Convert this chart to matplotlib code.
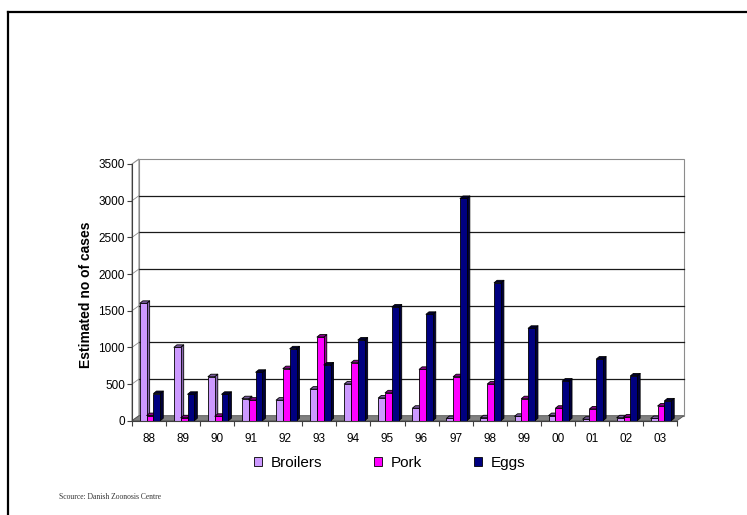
import matplotlib
matplotlib.use('Agg')
import matplotlib.pyplot as plt
from matplotlib.patches import Polygon, Patch
from matplotlib.collections import PolyCollection
from matplotlib.lines import Line2D
import numpy as np

plt.rcParams['font.family'] = ['Liberation Sans', 'DejaVu Sans']

# Salmonella cases per source, 1988-2003
years = ['88', '89', '90', '91', '92', '93', '94', '95',
         '96', '97', '98', '99', '00', '01', '02', '03']
broilers = [1600, 1000, 600, 300, 280, 430, 500, 310, 170, 30, 40, 60, 70, 20, 40, 30]
pork = [70, 40, 60, 280, 710, 1140, 790, 380, 700, 600, 500, 300, 170, 160, 50, 200]
eggs = [370, 360, 360, 660, 980, 760, 1100, 1550, 1450, 3030, 1880, 1260, 540, 840, 610, 270]

series_names = ['Broilers', 'Pork', 'Eggs']
series_vals = [broilers, pork, eggs]
front_cols = ['#cc99ff', '#ff00ff', '#000080']
side_cols = ['#8a68b0', '#9c009c', '#00003a']
top_cols = ['#7a5a9e', '#8a008a', '#000030']

W, H = 747, 515
fig = plt.figure(figsize=(W / 100, H / 100), dpi=100)
ax_l, ax_r, ax_b, ax_t = 132, 677, 420.7, 164.0
ax = fig.add_axes([ax_l / W, 1 - ax_b / H, (ax_r - ax_l) / W, (ax_b - ax_t) / H])

n = len(years)
ymax = 3500
ax.set_xlim(-0.5, n - 0.5)
ax.set_ylim(0, ymax)
ax.patch.set_visible(False)

# pixel -> data conversions for the pseudo-3D depth
px_x = (ax_r - ax_l) / n
px_y = (ax_b - ax_t) / ymax
wx, wy = 7 / px_x, 5 / px_y      # back wall offset
bx, by = 3 / px_x, 2.5 / px_y    # bar depth

x0, x1 = -0.5, n - 0.5
# left wall, back wall and floor
ax.add_patch(Polygon([(x0, 0), (x0 + wx, wy), (x0 + wx, ymax + wy), (x0, ymax)],
                     closed=True, facecolor='white', edgecolor='#8c8c8c', lw=0.8,
                     clip_on=False, zorder=0.5))
ax.add_patch(Polygon([(x0 + wx, wy), (x1 + wx, wy), (x1 + wx, ymax + wy), (x0 + wx, ymax + wy)],
                     closed=True, facecolor='white', edgecolor='#8c8c8c', lw=0.8,
                     clip_on=False, zorder=0.5))
for v in range(500, ymax, 500):
    ax.plot([x0 + wx, x1 + wx], [v + wy, v + wy], color='#1a1a1a', lw=0.9,
            clip_on=False, zorder=0.8)
    ax.plot([x0, x0 + wx], [v, v + wy], color='#8c8c8c', lw=0.6,
            clip_on=False, zorder=0.8)
ax.add_patch(Polygon([(x0, 0), (x1, 0), (x1 + wx, wy), (x0 + wx, wy)],
                     closed=True, facecolor='#808080', edgecolor='#505050', lw=0.6,
                     clip_on=False, zorder=1))

# bars: side and top faces first, then the front face
w = 0.2
shift = 0.03
idx = np.arange(n)
for s, (vals, fc, sc, tc) in enumerate(zip(series_vals, front_cols, side_cols, top_cols)):
    centers = idx + shift + (s - 1) * w
    sides, tops = [], []
    for c, v in zip(centers, vals):
        l, r = c - w / 2, c + w / 2
        sides.append([(r, 0), (r + bx, by), (r + bx, v + by), (r, v)])
        tops.append([(l, v), (l + bx, v + by), (r + bx, v + by), (r, v)])
    ax.add_collection(PolyCollection(sides, facecolors=sc, edgecolors='black',
                                     linewidths=0.6, zorder=2 + 0.1 * s, clip_on=False))
    ax.add_collection(PolyCollection(tops, facecolors=tc, edgecolors='black',
                                     linewidths=0.6, zorder=2 + 0.1 * s, clip_on=False))
    ax.bar(centers, vals, width=w, color=fc, edgecolor='black', linewidth=0.6,
           zorder=2.05 + 0.1 * s, clip_on=False)

# axes lines and ticks
for sp in ['top', 'right']:
    ax.spines[sp].set_visible(False)
ax.spines['left'].set_color('#404040')
ax.spines['bottom'].set_color('#404040')
ax.spines['left'].set_zorder(3)
ax.spines['bottom'].set_zorder(3)

ax.set_yticks(range(0, ymax + 1, 500))
ax.tick_params(axis='y', direction='out', length=3.6, width=0.8, color='#404040',
               labelsize=8.5, pad=1.5)
ax.set_xticks(idx)
ax.set_xticklabels(years)
ax.set_xticks(np.arange(n + 1) - 0.5, minor=True)
ax.tick_params(axis='x', which='major', length=0, labelsize=8.5, pad=8.5)
ax.tick_params(axis='x', which='minor', direction='out', length=3.6, width=0.8,
               color='#404040')

fig.text(86 / W, 1 - 295 / H, 'Estimated no of cases', rotation=90,
         fontsize=10, fontweight='bold', ha='center', va='center')

handles = [Patch(facecolor=c, edgecolor='black', linewidth=0.6) for c in front_cols]
fig.legend(handles, series_names, loc='center', bbox_to_anchor=(390 / W, 1 - 463 / H),
           ncol=3, frameon=False, fontsize=11, handlelength=0.5, handleheight=0.5,
           handletextpad=0.6, columnspacing=3.4)

fig.text(59 / W, 1 - 497 / H, 'Scource: Danish Zoonosis Centre',
         family='Liberation Serif', fontsize=5.5, color='#333333', va='center')

# page border (top and left edges)
fig.add_artist(Line2D([8 / W, 1], [1 - 12 / H, 1 - 12 / H], transform=fig.transFigure,
                      color='black', lw=1.6))
fig.add_artist(Line2D([8 / W, 8 / W], [0, 1 - 12 / H], transform=fig.transFigure,
                      color='black', lw=1.6))

fig.savefig('out.png', dpi=100)
